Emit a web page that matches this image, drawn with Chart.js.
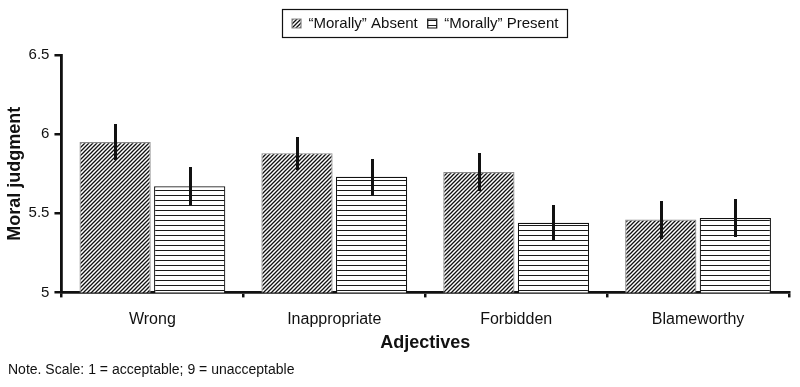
<!DOCTYPE html>
<html><head><meta charset="utf-8">
<script src="https://cdn.jsdelivr.net/npm/chart.js@4/dist/chart.umd.min.js"></script>
<style>html,body{margin:0;padding:0;background:#fff}#wrap{width:800px;height:387px}</style>
</head><body><div id="wrap"><canvas id="c" width="800" height="387"></canvas></div>
<script>
const categories = ["Wrong", "Inappropriate", "Forbidden", "Blameworthy"];
const seriesLabels = ["\u201cMorally\u201d Absent", "\u201cMorally\u201d Present"];
const absentValues = [5.95, 5.88, 5.76, 5.46];
const presentValues = [5.67, 5.73, 5.44, 5.47];
const absentErrors = [0.115, 0.105, 0.12, 0.12];
const presentErrors = [0.12, 0.115, 0.11, 0.12];
const yTicks = [5, 5.5, 6, 6.5];
const noteText = "Note. Scale: 1 = acceptable; 9 = unacceptable";
const FONT = 'Liberation Sans, Arial, sans-serif';

function makePattern(kind) {
  const c = document.createElement('canvas');
  const ctx = c.getContext('2d');
  if (kind === 'diag') {
    const s = 4; c.width = s; c.height = s;
    ctx.fillStyle = '#fff'; ctx.fillRect(0, 0, s, s);
    ctx.strokeStyle = '#111'; ctx.lineWidth = 1.3;
    ctx.beginPath();
    ctx.moveTo(-1, s + 1); ctx.lineTo(s + 1, -1);
    ctx.moveTo(-1, 1); ctx.lineTo(1, -1);
    ctx.moveTo(s - 1, s + 1); ctx.lineTo(s + 1, s - 1);
    ctx.stroke();
  } else {
    const s = 5; c.width = s; c.height = s;
    ctx.fillStyle = '#fff'; ctx.fillRect(0, 0, s, s);
    ctx.fillStyle = '#1a1a1a'; ctx.fillRect(0, 0, s, 1);
  }
  return ctx.createPattern(c, 'repeat');
}
const diagPattern = makePattern('diag');
const horizPattern = makePattern('horiz');
const errorsByDataset = [absentErrors, presentErrors];

const errorBarPlugin = {
  id: 'errorBars',
  afterDatasetsDraw(chart) {
    const ctx = chart.ctx; const y = chart.scales.y;
    chart.data.datasets.forEach((ds, di) => {
      const meta = chart.getDatasetMeta(di);
      meta.data.forEach((bar, i) => {
        const v = ds.data[i], e = errorsByDataset[di][i];
        const x = Math.round(bar.x) + 0.5;
        ctx.save(); ctx.strokeStyle = '#111'; ctx.lineWidth = 3; ctx.lineCap = 'butt';
        ctx.beginPath();
        ctx.moveTo(x, Math.round(y.getPixelForValue(v + e)));
        ctx.lineTo(x, Math.round(y.getPixelForValue(v - e)));
        ctx.stroke(); ctx.restore();
      });
    });
  }
};
const legendBoxPlugin = {
  id: 'legendBox',
  beforeInit(chart) {
    const lg = chart.legend;
    if (lg && !lg._patched) {
      const origFit = lg.fit;
      lg.fit = function () { origFit.call(this); this.height += 14; };
      lg._patched = true;
    }
  },
  afterDraw(chart) {
    const lg = chart.legend; if (!lg || !lg.legendHitBoxes || !lg.legendHitBoxes.length) return;
    let l = Infinity, r = -Infinity, t = Infinity, b = -Infinity;
    lg.legendHitBoxes.forEach(h => { l = Math.min(l, h.left); r = Math.max(r, h.left + h.width); t = Math.min(t, h.top); b = Math.max(b, h.top + h.height); });
    const ctx = chart.ctx; ctx.save(); ctx.strokeStyle = '#111'; ctx.lineWidth = 1.2;
    ctx.strokeRect(Math.round(l - 10) + 0.5, Math.round(t - 7) + 0.5, Math.round(r - l + 19), Math.round(b - t + 13));
    ctx.restore();
  }
};

new Chart(document.getElementById('c'), {
  type: 'bar',
  data: {
    labels: categories,
    datasets: [
      { label: seriesLabels[0], data: absentValues, backgroundColor: diagPattern, borderColor: '#8a8a8a', borderWidth: 1.2, categoryPercentage: 0.82, barPercentage: 0.955 },
      { label: seriesLabels[1], data: presentValues, backgroundColor: horizPattern, borderColor: '#111', borderWidth: 1.2, categoryPercentage: 0.82, barPercentage: 0.955 }
    ]
  },
  options: {
    responsive: false, animation: false, devicePixelRatio: 1,
    layout: { padding: { left: 8, right: 11, top: 6, bottom: 0 } },
    plugins: {
      legend: {
        position: 'top', fullSize: false,
        labels: { boxWidth: 9, boxHeight: 9, padding: 10, color: '#111', font: { family: FONT, size: 15 } }
      },
      subtitle: {
        display: true, position: 'bottom', align: 'start', text: noteText, color: '#111',
        font: { family: FONT, size: 14, weight: 'normal' }, padding: { top: 8, bottom: 8 }
      },
      tooltip: { enabled: false }
    },
    scales: {
      x: {
        grid: { drawOnChartArea: false, offset: true, tickLength: 5, color: '#111', lineWidth: 2.5 },
        border: { color: '#111', width: 2.8 },
        ticks: { color: '#111', font: { family: FONT, size: 16 }, padding: 13 },
        title: { display: true, text: 'Adjectives', color: '#111', font: { family: FONT, size: 18, weight: 'bold' }, padding: { top: -10, bottom: 0 } }
      },
      y: {
        min: 5, max: 6.5,
        afterBuildTicks(scale) { scale.ticks = yTicks.map(v => ({ value: v })); },
        grid: { drawOnChartArea: false, tickLength: 7, color: '#111', lineWidth: 2.5 },
        border: { color: '#111', width: 2.8 },
        ticks: { color: '#111', font: { family: FONT, size: 15 }, padding: 5, callback: v => String(v) },
        title: { display: true, text: 'Moral judgment', color: '#111', font: { family: FONT, size: 18, weight: 'bold' }, padding: { top: -4, bottom: -2 } }
      }
    }
  },
  plugins: [errorBarPlugin, legendBoxPlugin]
});
</script></body></html>
